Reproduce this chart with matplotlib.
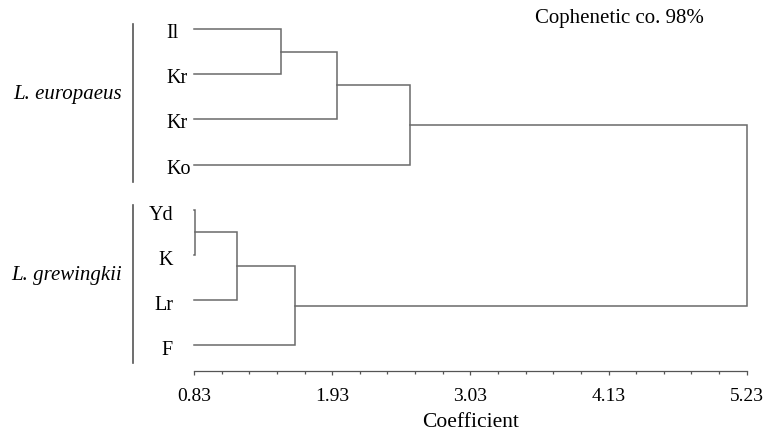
import matplotlib
matplotlib.use("Agg")
import matplotlib.pyplot as plt
import matplotlib.transforms as mtransforms
from matplotlib.lines import Line2D
import numpy as np

# ---------------- data ----------------
leaf_labels = ["Il", "Kr", "Kr", "Ko", "Yd", "K", "Lr", "F"]
group_names = ["L. europaeus", "L. grewingkii"]
group_first = [0, 4]
group_last = [3, 7]
# merges: children indices (leaves 0-7, internal nodes 8+), and heights
merge_left = [0, 8, 9, 4, 11, 12, 10]
merge_right = [1, 2, 3, 5, 6, 7, 13]
merge_height = [1.52, 1.97, 2.55, 0.835, 1.175, 1.635, 5.23]
leaf_height = 0.83
tick_values = [0.83, 1.93, 3.03, 4.13, 5.23]
minor_step = 0.22
cophenetic_text = "Cophenetic co. 98%"
x_label = "Coefficient"

# ---------------- figure ----------------
W, H = 763, 436
fig = plt.figure(figsize=(W / 100, H / 100), dpi=100)
serif = ["Liberation Serif", "DejaVu Serif"]
plt.rcParams["font.family"] = serif

x0_px, x1_px = 194, 746.7
axis_px = 371
ax = fig.add_axes([x0_px / W, (H - axis_px) / H, (x1_px - x0_px) / W, axis_px / H])

# y: leaf index -> pixel 29 + 45.2*i
y_top = -29 / 45.2
y_bot = (axis_px - 29) / 45.2
ax.set_ylim(y_bot, y_top)
ax.set_xlim(tick_values[0], tick_values[-1])

line_color = "#6a6a6a"
lw = 1.1

n_leaves = len(leaf_labels)
pos_y = {i: float(i) for i in range(n_leaves)}
pos_h = {i: leaf_height for i in range(n_leaves)}
for k, (l, r, h) in enumerate(zip(merge_left, merge_right, merge_height)):
    node = n_leaves + k
    ly, ry = pos_y[l], pos_y[r]
    lh, rh = pos_h[l], pos_h[r]
    ax.plot([lh, h, h, rh], [ly, ly, ry, ry], color=line_color, lw=lw,
            solid_joinstyle="miter", clip_on=False)
    pos_y[node] = (ly + ry) / 2
    pos_h[node] = h

# axis styling
for s in ["top", "right", "left"]:
    ax.spines[s].set_visible(False)
ax.spines["bottom"].set_color("#555555")
ax.spines["bottom"].set_linewidth(0.9)
ax.set_yticks([])
ax.set_xticks(tick_values)
ax.set_xticklabels([f"{v:.2f}" for v in tick_values], fontsize=14)
minors = np.arange(tick_values[0], tick_values[-1] + 1e-6, minor_step)
ax.set_xticks(minors, minor=True)
ax.tick_params(axis="x", which="major", length=3.2, width=0.9, color="#555555", pad=9)
ax.tick_params(axis="x", which="minor", length=2.4, width=0.9, color="#555555")
ax.set_xlabel(x_label, fontsize=15.5, labelpad=6)
ax.patch.set_visible(False)

# leaf labels
tr = mtransforms.blended_transform_factory(fig.transFigure, ax.transData)
for i, lab in enumerate(leaf_labels):
    if i < 4:
        ax.text(166 / W, i + 0.1, lab, transform=tr, ha="left", va="center", fontsize=14.5)
    else:
        ax.text(173 / W, i + 0.12, lab, transform=tr, ha="right", va="center", fontsize=14.5)

# group brackets and names
for name, a, b in zip(group_names, group_first, group_last):
    ax.add_line(Line2D([133 / W, 133 / W], [a - 0.11, b + 0.38], transform=tr,
                       color="#555555", lw=1.2, clip_on=False))
    ax.text(122 / W, (a + b) / 2 - 0.05, name, transform=tr, ha="right", va="center",
            fontsize=15, style="italic")

fig.text(535 / W, 1 - 18 / H, cophenetic_text, ha="left", va="center", fontsize=15)

fig.savefig("out.png", dpi=100)
